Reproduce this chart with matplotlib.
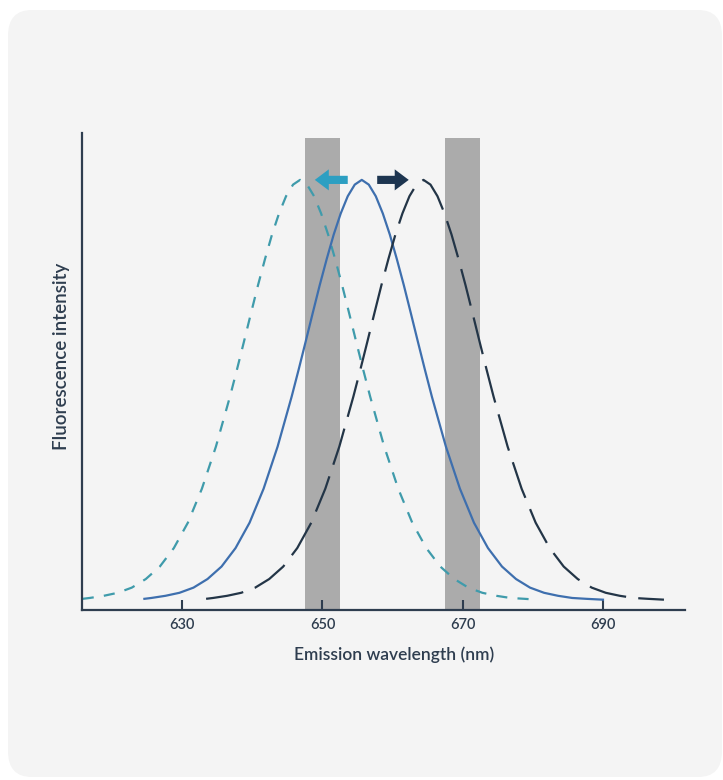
import matplotlib
matplotlib.use("Agg")
import matplotlib.pyplot as plt
from matplotlib.patches import FancyBboxPatch, FancyArrow

plt.rcParams['font.family'] = ['Lato', 'DejaVu Sans']

# emission spectra (intensity: peak = 100, axis = 0)
teal_wl = [615.8, 616.8, 618.8, 620.8, 622.8, 624.8, 626.8, 628.8, 630.8, 632.8, 634.8,
           636.8, 637.8, 638.8, 639.8, 640.8, 641.8, 642.8, 643.8, 644.8, 645.8, 646.8,
           647.8, 648.8, 649.8, 650.8, 651.8, 652.8, 653.8, 654.8, 655.8, 656.8, 658.8,
           660.8, 662.8, 664.8, 666.8, 668.8, 670.8, 672.8, 674.8, 676.8, 678.8, 680.6]
blue_wl = [624.6, 625.6, 627.6, 629.6, 631.6, 633.6, 635.6, 637.6, 639.6, 641.6, 643.6,
           645.6, 646.6, 647.6, 648.6, 649.6, 650.6, 651.6, 652.6, 653.6, 654.6, 655.6,
           656.6, 657.6, 658.6, 659.6, 660.6, 661.6, 662.6, 663.6, 664.6, 665.6, 667.6,
           669.6, 671.6, 673.6, 675.6, 677.6, 679.6, 681.6, 683.6, 685.6, 687.6, 690.0]
dark_wl = [633.4, 634.4, 636.4, 638.4, 640.4, 642.4, 644.4, 646.4, 648.4, 650.4, 652.4,
           654.4, 655.4, 656.4, 657.4, 658.4, 659.4, 660.4, 661.4, 662.4, 663.4, 664.4,
           665.4, 666.4, 667.4, 668.4, 669.4, 670.4, 671.4, 672.4, 673.4, 674.4, 676.4,
           678.4, 680.4, 682.4, 684.4, 686.4, 688.4, 690.4, 692.4, 694.4, 696.4, 698.7]
intensity = [2.6, 2.8, 3.3, 4.0, 5.2, 7.2, 10.1, 14.4, 20.3, 28.2, 38.0,
             49.6, 55.9, 62.4, 69.0, 75.5, 81.6, 87.3, 92.2, 96.2, 98.9, 100.0,
             98.9, 96.2, 92.2, 87.3, 81.6, 75.5, 69.0, 62.4, 55.9, 49.6, 38.0,
             28.2, 20.3, 14.4, 10.1, 7.2, 5.2, 4.0, 3.3, 2.8, 2.6, 2.4]

bands = [(647.5, 652.5), (667.5, 672.5)]
ticks = [630, 650, 670, 690]
# arrows: (tail, tip) at the peak level
teal_arrow = (653.6, 648.9)
dark_arrow = (657.8, 662.3)

fig = plt.figure(figsize=(7.23, 7.8), dpi=100)
fig.patch.set_facecolor("white")
card = FancyBboxPatch((8 / 723, 3 / 780), 714 / 723, 767 / 780,
                      boxstyle="round,pad=0,rounding_size=0.033",
                      transform=fig.transFigure, facecolor="#f4f4f4",
                      edgecolor="none", zorder=-10)
fig.add_artist(card)

ax = fig.add_axes([82 / 723, 170 / 780, 603 / 723, 477 / 780])
ax.set_zorder(1)
ax.set_facecolor("none")
ax.set_xlim(615.7, 701.7)
ax.set_ylim(0, 110.9)

for lo, hi in bands:
    ax.axvspan(lo, hi, ymin=0, ymax=0.9895, color="#ababab", lw=0, zorder=1)

ax.plot(teal_wl, intensity, color="#3f9bab", lw=1.6, ls=(0, (5.0, 4.6)), zorder=3)
ax.plot(blue_wl, intensity, color="#3e6fae", lw=1.6, zorder=3)
ax.plot(dark_wl, intensity, color="#233547", lw=1.6, ls=(0, (17, 5.5)), zorder=3)

for (tail, tip), col in [(teal_arrow, "#2c9fc2"), (dark_arrow, "#1d3550")]:
    ax.add_patch(FancyArrow(tail, 100, tip - tail, 0, width=1.9, head_width=4.9,
                            head_length=2.0, length_includes_head=True,
                            color=col, lw=0, zorder=4))

for s in ["top", "right"]:
    ax.spines[s].set_visible(False)
for s in ["left", "bottom"]:
    ax.spines[s].set_color("#2e3d4f")
    ax.spines[s].set_linewidth(1.6)
    ax.spines[s].set_zorder(5)

ax.set_xticks(ticks)
ax.set_xticklabels([str(t) for t in ticks], fontweight="semibold")
ax.tick_params(axis="x", direction="in", length=7, width=1.5, color="#2e3d4f",
               labelsize=10.5, labelcolor="#2e3d4f", pad=6)
ax.set_yticks([])

ax.text(0.518, -0.094, "Emission wavelength (nm)", transform=ax.transAxes,
        ha="center", va="center", fontsize=12.5, fontweight="semibold", color="#2e3d4f")
ax.text(-0.034, 0.532, "Fluorescence intensity", transform=ax.transAxes,
        ha="center", va="center", rotation=90, fontsize=13.5, fontweight="semibold",
        color="#2e3d4f")

fig.savefig("out.png", dpi=100)
